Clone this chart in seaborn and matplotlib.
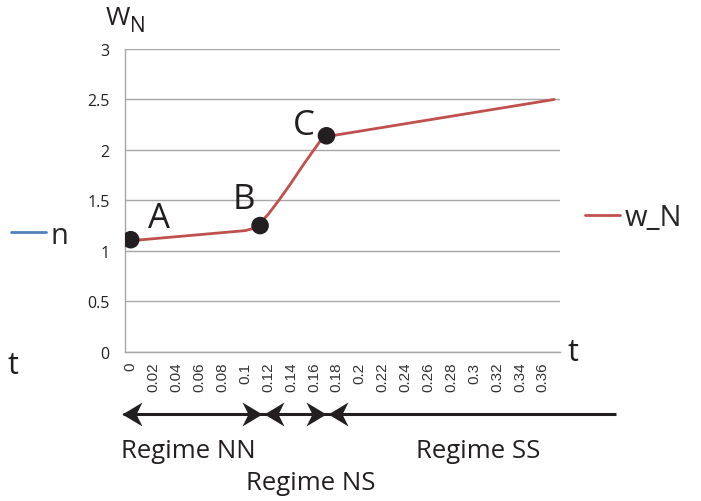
import numpy as np
import pandas as pd
import matplotlib
matplotlib.use('Agg')
import matplotlib.pyplot as plt
import matplotlib.transforms as mtransforms
from matplotlib.path import Path
from matplotlib.lines import Line2D
import seaborn as sns

# values
t_vals = [0.0, 0.10, 0.105, 0.11, 0.12, 0.13, 0.14, 0.15, 0.16, 0.165, 0.17, 0.37]
w_vals = [1.10, 1.20, 1.215, 1.24, 1.36, 1.51, 1.67, 1.84, 2.00, 2.08, 2.13, 2.50]

point_names = ['A', 'B', 'C']
point_t = [0.0, 0.113, 0.171]
point_w = [1.11, 1.25, 2.14]

x_labels = ['0', '0.02', '0.04', '0.06', '0.08', '0.1', '0.12', '0.14', '0.16', '0.18',
            '0.2', '0.22', '0.24', '0.26', '0.28', '0.3', '0.32', '0.34', '0.36']
y_labels = ['0', '0.5', '1', '1.5', '2', '2.5', '3']

regime_names = ['Regime NN', 'Regime NS', 'Regime SS']

sns.set_style('white')
plt.rcParams['font.family'] = ['Open Sans', 'DejaVu Sans']

W, H = 701, 502
fig = plt.figure(figsize=(W / 100, H / 100), dpi=100)
fx = lambda px: px / W
fy = lambda py: 1 - py / H

ax = fig.add_axes([fx(125), fy(352.7), fx(435), 302.7 / H])

df = pd.DataFrame({'t': t_vals, 'w_N': w_vals})
sns.lineplot(data=df, x='t', y='w_N', ax=ax, color='#c0504d', lw=2.0, legend=False)
sns.scatterplot(x=point_t, y=point_w, ax=ax, color='#231f20', s=160, zorder=5,
                edgecolor='none', legend=False)

grey = '#a6a6a6'
ax.set_xlim(-0.005, 0.375)
ax.set_ylim(0, 3)
ax.set_yticks(np.arange(0, 3.01, 0.5))
ax.set_yticklabels(y_labels, fontsize=11.5, color='#222222')
ax.set_xticks(np.arange(0, 0.361, 0.02))
ax.set_xticklabels(x_labels, rotation=90, fontsize=11, color='#333333',
                   family='Liberation Sans')
ax.set_xticks(np.arange(-0.005, 0.3751, 0.01), minor=True)
ax.tick_params(axis='x', which='major', length=0, pad=7)
ax.tick_params(axis='x', which='minor', length=4, width=1, color=grey, direction='out')
ax.tick_params(axis='y', which='major', length=4, width=1, color=grey, direction='out', pad=7)
ax.grid(axis='y', color=grey, lw=1.0)
ax.set_axisbelow(True)
for s in ['top', 'right']:
    ax.spines[s].set_visible(False)
for s in ['left', 'bottom']:
    ax.spines[s].set_color(grey)
    ax.spines[s].set_linewidth(1.0)
ax.set_xlabel('')
ax.set_ylabel('')

# point labels (offsets in pixels from each dot, to the letter's left baseline)
offsets = [(17, 13), (-27, 18), (-34, 2)]
for name, tx, wy, (dx, dy) in zip(point_names, point_t, point_w, offsets):
    ax.annotate(name, (tx, wy), xytext=(dx, dy), textcoords='offset pixels',
                fontsize=25, ha='left', va='baseline', color='#231f20')

# axis titles
fig.text(fx(106), fy(25), 'W', fontsize=19, color='#231f20', va='baseline')
fig.text(fx(130), fy(32), 'N', fontsize=15, color='#231f20', va='baseline')
fig.text(fx(568), fy(361), 't', fontsize=22, color='#231f20', va='baseline')
fig.text(fx(8), fy(374), 't', fontsize=22, color='#231f20', va='baseline')

# legends
leg_n = fig.legend(handles=[Line2D([], [], color='#4f81bd', lw=2.0)], labels=['n'],
                   loc='center left', bbox_to_anchor=(fx(11), fy(236)), frameon=False,
                   fontsize=21, handlelength=1.2, handletextpad=0.15,
                   borderpad=0, borderaxespad=0)
leg_w = fig.legend(handles=[Line2D([], [], color='#c0504d', lw=2.0)], labels=['w_N'],
                   loc='center left', bbox_to_anchor=(fx(585), fy(219)), frameon=False,
                   fontsize=21, handlelength=1.2, handletextpad=0.15,
                   borderpad=0, borderaxespad=0)

# regime arrows below the axis
trans = mtransforms.blended_transform_factory(ax.transData, ax.transAxes)
arrow_y = -0.206
head_r = Path([(0, 0), (-1, 0.6), (-0.7, 0), (-1, -0.6), (0, 0)],
              [Path.MOVETO, Path.LINETO, Path.LINETO, Path.LINETO, Path.CLOSEPOLY])
head_l = Path([(0, 0), (1, 0.6), (0.7, 0), (1, -0.6), (0, 0)],
              [Path.MOVETO, Path.LINETO, Path.LINETO, Path.LINETO, Path.CLOSEPOLY])
ax.plot([-0.007, 0.4235], [arrow_y, arrow_y], color='#231f20', lw=2.2,
        transform=trans, clip_on=False, solid_capstyle='butt')
tips_l = [-0.0072, point_t[1] + 0.0033, point_t[2] + 0.0012]
tips_r = [point_t[1] + 0.0018, point_t[2] - 0.0006]
for x in tips_l:
    ax.plot([x], [arrow_y], marker=head_l, markersize=28.8, color='#231f20',
            mec='none', transform=trans, clip_on=False, ls='none')
for x in tips_r:
    ax.plot([x], [arrow_y], marker=head_r, markersize=28.8, color='#231f20',
            mec='none', transform=trans, clip_on=False, ls='none')

# regime labels
regime_pos = [(188, 458), (311, 490), (478, 458)]
for name, (px, py) in zip(regime_names, regime_pos):
    fig.text(fx(px), fy(py), name, fontsize=18.5, ha='center', va='baseline',
             color='#231f20')

fig.savefig('out.png', dpi=100)
